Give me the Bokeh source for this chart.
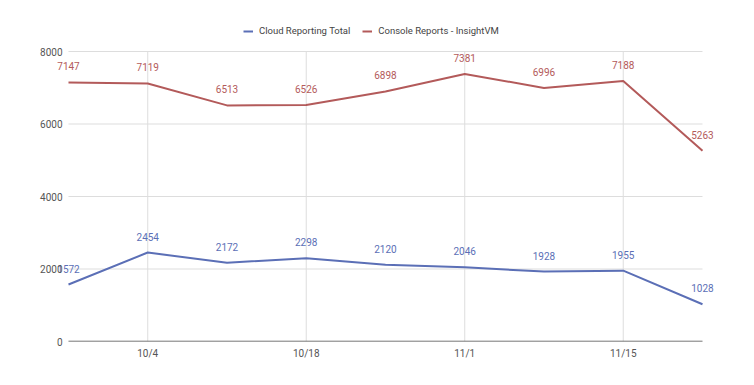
from bokeh.plotting import figure
from bokeh.models import ColumnDataSource, Legend, LegendItem, FixedTicker, Range1d
from bokeh.core.properties import value
from bokeh.embed import file_html
from bokeh.resources import INLINE

idx = [0, 1, 2, 3, 4, 5, 6, 7, 8]
dates = ["9/27", "10/4", "10/11", "10/18", "10/25", "11/1", "11/8", "11/15", "11/22"]
cloud = [1572, 2454, 2172, 2298, 2120, 2046, 1928, 1955, 1028]
console = [7147, 7119, 6513, 6526, 6898, 7381, 6996, 7188, 5263]
tick_idx = [1, 3, 5, 7]
y_ticks = [0, 2000, 4000, 6000, 8000]

BLUE = "#5b6fb6"
RED = "#b35a5a"
FONT = "Roboto"
GRID = "#dddddd"

x_lo, x_hi = idx[0], idx[-1]
y_lo, y_hi = y_ticks[0], y_ticks[-1]

src = ColumnDataSource(dict(x=idx, cloud=cloud, console=console,
                            cloud_t=[str(v) for v in cloud],
                            console_t=[str(v) for v in console]))

p = figure(width=738, height=369, output_backend="svg", toolbar_location=None,
           x_range=Range1d(x_lo - 0.164, x_hi + 0.202),
           y_range=Range1d(y_lo, y_hi * 326 / 290),
           min_border_left=55, min_border_right=20, min_border_top=15, min_border_bottom=28)
p.outline_line_color = None
p.background_fill_color = "white"
p.border_fill_color = "white"
p.xgrid.visible = False
p.ygrid.visible = False

# grid lines limited to the data extent
p.segment(x0=[x_lo] * len(y_ticks), x1=[x_hi] * len(y_ticks), y0=y_ticks, y1=y_ticks,
          line_color=GRID, line_width=1)
p.segment(x0=tick_idx, x1=tick_idx, y0=[y_lo] * len(tick_idx), y1=[y_hi] * len(tick_idx),
          line_color=GRID, line_width=1)
# baseline
p.segment(x0=[x_lo], x1=[x_hi], y0=[y_lo], y1=[y_lo], line_color="#555555", line_width=1.5)

r1 = p.line("x", "cloud", source=src, line_color=BLUE, line_width=2)
r2 = p.line("x", "console", source=src, line_color=RED, line_width=2)

p.text("x", "cloud", text="cloud_t", source=src, text_color=BLUE,
       text_font=value(FONT), text_font_size="10px", text_align="center",
       text_baseline="middle", y_offset=-16)
p.text("x", "console", text="console_t", source=src, text_color=RED,
       text_font=value(FONT), text_font_size="10px", text_align="center",
       text_baseline="middle", y_offset=-16)

p.xaxis.ticker = FixedTicker(ticks=tick_idx)
p.xaxis.major_label_overrides = {i: dates[i] for i in tick_idx}
p.yaxis.ticker = FixedTicker(ticks=y_ticks)

for ax in (p.xaxis[0], p.yaxis[0]):
    ax.major_tick_line_color = None
    ax.minor_tick_line_color = None
    ax.major_tick_out = 0
    ax.major_tick_in = 0
    ax.minor_tick_out = 0
    ax.minor_tick_in = 0
    ax.axis_line_color = None
    ax.major_label_text_font = FONT
    ax.major_label_text_font_size = "10px"
    ax.major_label_text_color = "#555555"
p.xaxis.major_label_standoff = 6
p.yaxis.major_label_standoff = -7

legend = Legend(items=[LegendItem(label="Cloud Reporting Total", renderers=[r1]),
                       LegendItem(label="Console Reports - InsightVM", renderers=[r2])],
                orientation="horizontal", location=(188, 305),
                label_text_font=FONT, label_text_font_size="9.5px", label_text_color="#444444",
                glyph_width=10, glyph_height=10, label_standoff=6, spacing=12,
                border_line_color=None, background_fill_alpha=0, padding=2, margin=0)
p.add_layout(legend, "center")

open("out.html", "w").write(file_html(p, INLINE))
